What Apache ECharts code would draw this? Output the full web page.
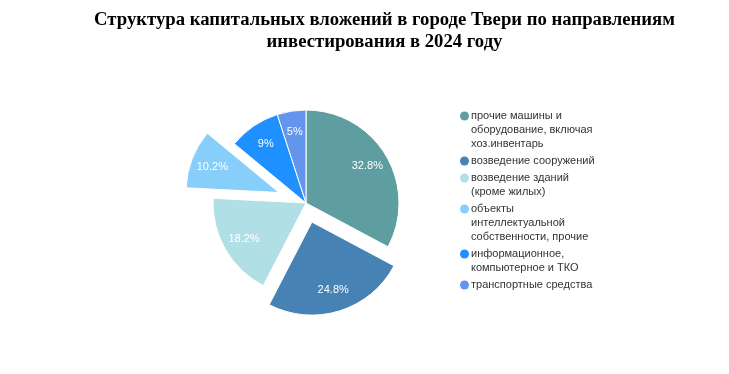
<!DOCTYPE html>
<html><head><meta charset="utf-8">
<script src="https://cdn.jsdelivr.net/npm/echarts@6/dist/echarts.min.js"></script>
<style>html,body{margin:0;padding:0;background:#fff}#c{width:729px;height:374px}</style>
</head><body><div id="c"></div>
<script>
const titleText = 'Структура капитальных вложений в городе Твери по направлениям\nинвестирования в 2024 году';
const categories = ['прочие машины и оборудование, включая хоз.инвентарь', 'возведение сооружений', 'возведение зданий (кроме жилых)', 'объекты интеллектуальной собственности, прочие', 'информационное, компьютерное и ТКО', 'транспортные средства'];
const values = [32.8, 24.8, 18.2, 10.2, 9, 5];
const legendLines = [
  ['прочие машины и', 'оборудование, включая', 'хоз.инвентарь'],
  ['возведение сооружений'],
  ['возведение зданий', '(кроме жилых)'],
  ['объекты', 'интеллектуальной', 'собственности, прочие'],
  ['информационное,', 'компьютерное и ТКО'],
  ['транспортные средства']
];
const colors = ['#5F9EA0', '#4682B4', '#B0E0E6', '#87CEFA', '#1E90FF', '#6495ED'];
// exploded slices: groups sharing a pull-out distance
const groups = [
  { offset: 20, items: [0, 1, 2, 4, 5], selected: [1] },
  { offset: 29, items: [3], selected: [3] }
];

const FONT = 'Liberation Sans, Arial, sans-serif';
const center = [306, 203];
const R = 93;

const series = [];
groups.forEach(function (g) {
  const base = {
    type: 'pie', center: center, startAngle: 90, clockwise: true,
    selectedMode: 'multiple', selectedOffset: g.offset, silent: true,
    animation: false, emphasis: { disabled: true }, avoidLabelOverlap: false,
    labelLine: { show: false }
  };
  series.push(Object.assign({}, base, {
    radius: [0, R],
    label: { show: false },
    data: categories.map(function (n, i) {
      const mine = g.items.indexOf(i) >= 0;
      return {
        name: n, value: values[i], selected: g.selected.indexOf(i) >= 0,
        itemStyle: mine ? { color: colors[i], borderColor: '#fff', borderWidth: 1 }
                        : { color: 'rgba(0,0,0,0)', borderWidth: 0 }
      };
    })
  }));
  series.push(Object.assign({}, base, {
    radius: [44, R],
    data: categories.map(function (n, i) {
      const mine = g.items.indexOf(i) >= 0;
      return {
        name: n, value: values[i], selected: g.selected.indexOf(i) >= 0,
        itemStyle: { color: 'rgba(0,0,0,0)', borderWidth: 0 },
        label: {
          show: mine, position: 'inside', color: '#fff', fontSize: 11,
          fontFamily: FONT, formatter: '{c}%'
        }
      };
    })
  }));
});

const rich = {
  t: { fontSize: 11, lineHeight: 14, color: '#333', fontFamily: FONT, padding: [0, 0, 0, 2] },
  sp: { width: 9, lineHeight: 14, fontSize: 11 }
};
colors.forEach(function (c, i) {
  rich['d' + i] = { width: 9, height: 9, borderRadius: 4.5, backgroundColor: c, lineHeight: 14, fontSize: 11 };
});

const chart = echarts.init(document.getElementById('c'), null, { renderer: 'canvas' });
chart.setOption({
  backgroundColor: '#fff',
  animation: false,
  title: {
    text: titleText, left: 379.5, top: 4, textAlign: 'center',
    textStyle: { fontFamily: 'Liberation Serif, Times New Roman, serif', fontWeight: 'bold', fontSize: 18.7, lineHeight: 22, color: '#000' }
  },
  legend: {
    orient: 'vertical', left: 449, top: 104, itemGap: 3,
    icon: 'rect', itemWidth: 0, itemHeight: 0,
    selectedMode: false,
    data: categories,
    formatter: function (name) {
      const i = categories.indexOf(name);
      return legendLines[i].map(function (l, j) {
        return (j === 0 ? '{d' + i + '| }' : '{sp| }') + '{t|' + l + '}';
      }).join('\n');
    },
    textStyle: { rich: rich, fontSize: 11, lineHeight: 14 }
  },
  series: series
});
</script></body></html>
